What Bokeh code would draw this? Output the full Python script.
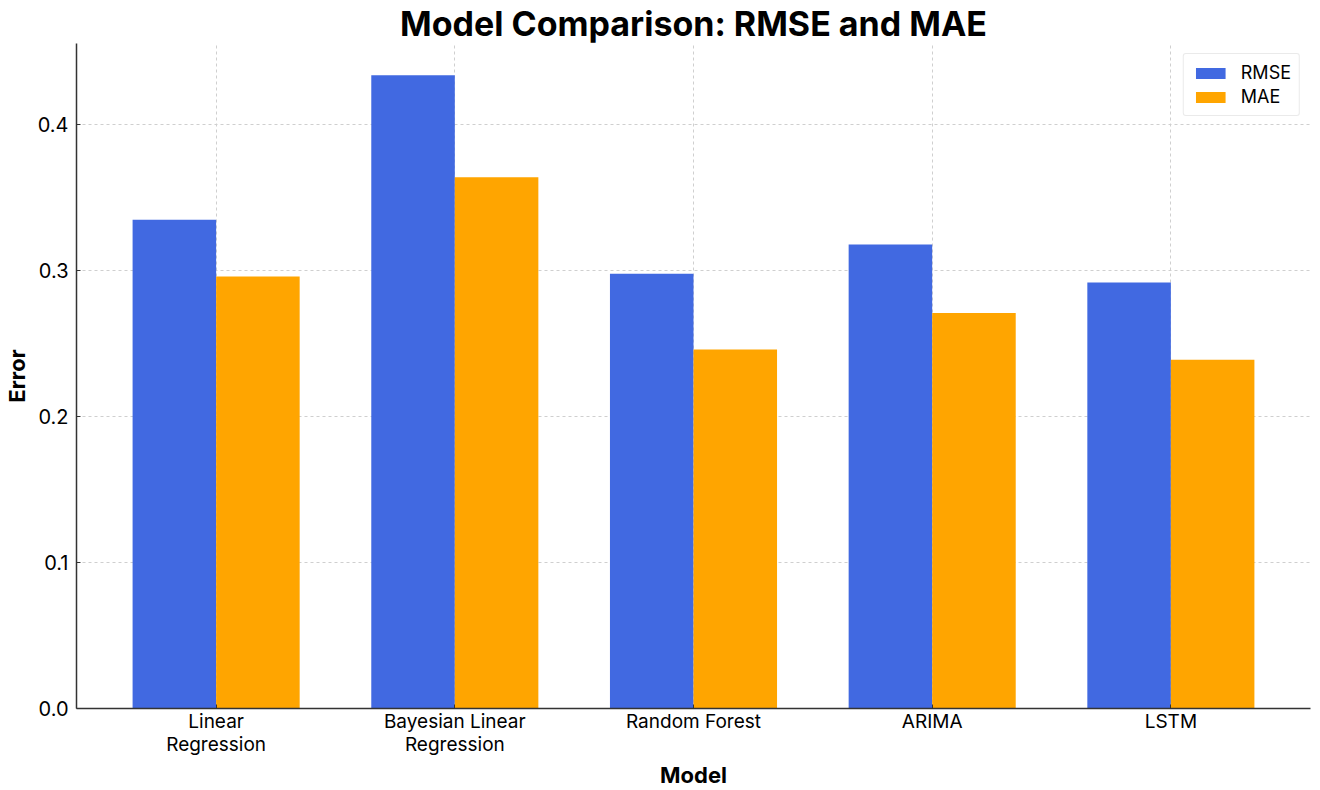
from bokeh.plotting import figure
from bokeh.models import ColumnDataSource, Range1d, FixedTicker, Legend, LegendItem
from bokeh.transform import dodge
from bokeh.embed import file_html
from bokeh.resources import INLINE

models = ["Linear\nRegression", "Bayesian Linear\nRegression", "Random Forest", "ARIMA", "LSTM"]
rmse = [0.335, 0.434, 0.298, 0.318, 0.292]
mae = [0.296, 0.364, 0.246, 0.271, 0.239]
y_ticks = [0.0, 0.1, 0.2, 0.3, 0.4]

idx = list(range(len(models)))
src = ColumnDataSource(dict(x=idx, rmse=rmse, mae=mae))

FONT = "Inter"
bar_w = 0.35

p = figure(frame_width=1234, frame_height=665, output_backend="svg", toolbar_location=None,
           x_range=Range1d(-0.585, len(models) - 1 + 0.585),
           y_range=Range1d(0, max(rmse) * 1.05),
           min_border_left=70, min_border_right=2, min_border_bottom=0, min_border_top=0)

p.title.text = "Model Comparison: RMSE and MAE"
p.title.text_font = FONT
p.title.text_font_size = "34px"
p.title.text_font_style = "bold"
p.title.text_line_height = 0.8
p.title.align = "center"
p.title.standoff = 0
p.title.text_color = "#000000"

r1 = p.vbar(x=dodge("x", -bar_w / 2), top="rmse", width=bar_w, source=src,
            fill_color="#4169E1", line_color=None)
r2 = p.vbar(x=dodge("x", bar_w / 2), top="mae", width=bar_w, source=src,
            fill_color="#FFA500", line_color=None)

p.outline_line_color = None
p.background_fill_color = "white"

for ax in (p.xaxis[0], p.yaxis[0]):
    ax.axis_line_color = "#333333"
    ax.axis_line_width = 1.5
    ax.major_tick_line_color = "#333333"
    ax.major_tick_in = 4
    ax.major_tick_out = 0
    ax.minor_tick_line_color = None
    ax.major_label_text_font = FONT
    ax.major_label_text_font_size = "20px"
    ax.major_label_text_color = "#000000"
    ax.axis_label_text_font = FONT
    ax.axis_label_text_font_size = "22px"
    ax.axis_label_text_font_style = "bold"
    ax.axis_label_text_color = "#000000"

p.xaxis.ticker = FixedTicker(ticks=idx)
p.xaxis.major_label_overrides = {i: m for i, m in zip(idx, models)}
p.xaxis.major_label_standoff = 1
p.xaxis.major_label_text_font_size = "19px"
p.xaxis.major_label_text_line_height = 1.0
p.xaxis.axis_label = "Model"
p.xaxis.axis_label_standoff = 3
p.xaxis.axis_label_text_line_height = 0.9

p.yaxis.ticker = FixedTicker(ticks=y_ticks)
p.yaxis.major_label_overrides = {t: f"{t:.1f}" for t in y_ticks}
p.yaxis.major_label_standoff = 8
p.yaxis.axis_label = "Error"
p.yaxis.axis_label_standoff = 5
p.yaxis.axis_label_text_line_height = 1.1

for g in (p.xgrid[0], p.ygrid[0]):
    g.grid_line_color = "#cfcfcf"
    g.grid_line_dash = "3 3"
    g.grid_line_width = 1

legend = Legend(items=[LegendItem(label="RMSE", renderers=[r1]),
                       LegendItem(label="MAE", renderers=[r2])],
                location="top_right")
legend.label_text_font = FONT
legend.label_text_font_size = "18px"
legend.label_text_color = "#000000"
legend.glyph_width = 37
legend.glyph_height = 14
legend.label_height = 21
legend.label_standoff = 12
legend.padding = 8
legend.spacing = 3
legend.margin = 10
legend.border_line_color = "#d6d6d6"
legend.border_line_width = 1
legend.border_radius = 3
legend.background_fill_alpha = 0.9
p.add_layout(legend)

open("out.html", "w").write(file_html(p, INLINE))
